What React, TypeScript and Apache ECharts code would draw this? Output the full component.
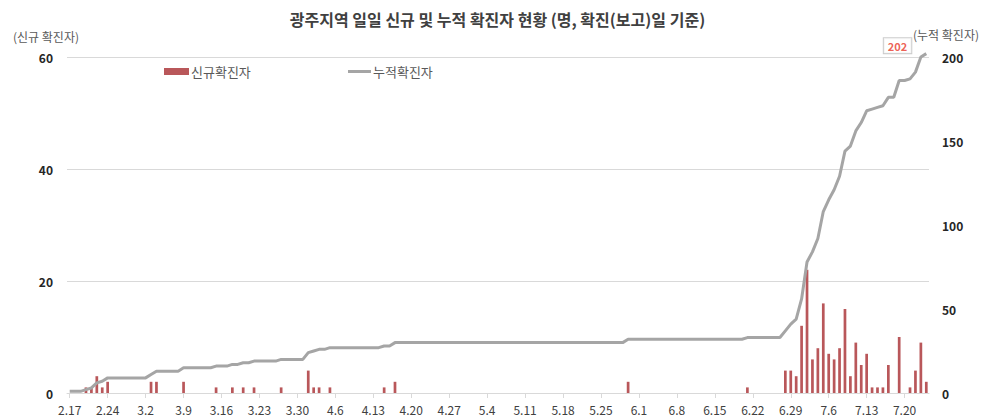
import React, { useEffect, useRef } from 'react';
import * as echarts from 'echarts';

const TITLE = '광주지역 일일 신규 및 누적 확진자 현황 (명, 확진(보고)일 기준)';
const SERIES_NAMES = ['신규확진자', '누적확진자'];
const LEFT_AXIS_NAME = '(신규 확진자)';
const RIGHT_AXIS_NAME = '(누적 확진자)';

// x axis: one category per day, starting 2020-02-17
const START_YEAR = 2020;
const START_MONTH = 2;
const START_DAY = 17;
const DAY_COUNT = 159;

// days with new confirmed cases (all other days: 0)
const NEW_CASE_DATES = [
  '2.20', '2.21', '2.22', '2.23', '2.24',
  '3.3', '3.4', '3.9',
  '3.15', '3.18', '3.20', '3.22', '3.27',
  '4.1', '4.2', '4.3', '4.5',
  '4.15', '4.17',
  '5.30',
  '6.21',
  '6.28', '6.29', '6.30', '7.1', '7.2', '7.3', '7.4', '7.5', '7.6', '7.7', '7.8',
  '7.9', '7.10', '7.11', '7.12', '7.13', '7.14', '7.15', '7.16', '7.17', '7.18',
  '7.19', '7.20', '7.21', '7.22', '7.23', '7.24',
];
const NEW_CASE_COUNTS = [
  1, 1, 3, 1, 2,
  2, 2, 2,
  1, 1, 1, 1, 1,
  4, 1, 1, 1,
  1, 2,
  2,
  1,
  4, 4, 3, 12, 22, 6, 8, 16, 7, 6, 8,
  15, 3, 9, 5, 7, 1, 1, 1, 5, 0,
  10, 0, 1, 4, 9, 2,
];
// cumulative count before the first day shown
const CUMULATIVE_BEFORE_START = 1;

const LEFT_MAX = 60;
const LEFT_INTERVAL = 20;
const RIGHT_MAX = 200;
const RIGHT_INTERVAL = 50;

const BAR_COLOR = '#b9575a';
const LINE_COLOR = '#a5a5a5';
const GRID_COLOR = '#d9d9d9';
const FONT = '"Noto Sans CJK KR", "Noto Sans", sans-serif';

function buildCategories(): string[] {
  const out: string[] = [];
  const base = Date.UTC(START_YEAR, START_MONTH - 1, START_DAY);
  for (let i = 0; i < DAY_COUNT; i++) {
    const d = new Date(base + i * 86400000);
    out.push(`${d.getUTCMonth() + 1}.${d.getUTCDate()}`);
  }
  return out;
}

export default function App() {
  const ref = useRef<HTMLDivElement>(null);

  useEffect(() => {
    if (!ref.current) return;
    const chart = echarts.init(ref.current, undefined, { renderer: 'svg' });

    const categories = buildCategories();
    const daily = categories.map((c) => {
      const idx = NEW_CASE_DATES.indexOf(c);
      return idx >= 0 ? NEW_CASE_COUNTS[idx] : 0;
    });
    const cumulative: number[] = [];
    let running = CUMULATIVE_BEFORE_START;
    daily.forEach((v) => {
      running += v;
      cumulative.push(running);
    });
    const lastIndex = categories.length - 1;
    const total = cumulative[lastIndex];

    const legendText = { fontFamily: FONT, fontSize: 13, color: '#595959', padding: [0, 0, 0, -3] };

    chart.setOption({
      animation: false,
      backgroundColor: '#ffffff',
      textStyle: { fontFamily: FONT },
      title: {
        text: TITLE,
        left: 'center',
        top: 6,
        textStyle: { fontFamily: FONT, fontSize: 16, fontWeight: 'bold', color: '#404040' },
      },
      legend: [
        {
          data: [{ name: SERIES_NAMES[0], icon: 'rect' }],
          left: 159,
          top: 60,
          itemWidth: 25,
          itemHeight: 7,
          textStyle: legendText,
        },
        {
          data: [{ name: SERIES_NAMES[1], icon: 'rect' }],
          left: 343,
          top: 60,
          itemWidth: 23,
          itemHeight: 3,
          textStyle: legendText,
        },
      ],
      grid: {
        left: 67,
        right: 66,
        top: 57,
        bottom: 27,
        containLabel: false,
        outerBoundsMode: 'none',
      },
      graphic: [
        {
          type: 'text',
          left: 13,
          top: 30,
          style: { text: LEFT_AXIS_NAME, fontFamily: FONT, fontSize: 12, fill: '#595959' },
        },
        {
          type: 'text',
          left: 913,
          top: 28,
          style: { text: RIGHT_AXIS_NAME, fontFamily: FONT, fontSize: 12, fill: '#595959' },
        },
      ],
      xAxis: {
        type: 'category',
        data: categories,
        boundaryGap: true,
        axisLine: { lineStyle: { color: GRID_COLOR, width: 1 } },
        axisTick: {
          show: true,
          interval: 6,
          alignWithLabel: true,
          length: 5,
          lineStyle: { color: GRID_COLOR },
        },
        axisLabel: {
          interval: 6,
          margin: 10,
          fontFamily: FONT,
          fontSize: 12,
          color: '#404040',
        },
        splitLine: { show: false },
      },
      yAxis: [
        {
          type: 'value',
          min: 0,
          max: LEFT_MAX,
          interval: LEFT_INTERVAL,
          axisLine: { show: false },
          axisTick: { show: false },
          axisLabel: {
            margin: 14,
            fontFamily: FONT,
            fontSize: 12,
            fontWeight: 'bold',
            color: '#262626',
          },
          splitLine: { show: true, lineStyle: { color: GRID_COLOR, width: 1 } },
        },
        {
          type: 'value',
          min: 0,
          max: RIGHT_MAX,
          interval: RIGHT_INTERVAL,
          axisLine: { show: false },
          axisTick: { show: false },
          axisLabel: {
            margin: 13,
            fontFamily: FONT,
            fontSize: 12,
            fontWeight: 'bold',
            color: '#262626',
          },
          splitLine: { show: false },
        },
      ],
      series: [
        {
          name: SERIES_NAMES[0],
          type: 'bar',
          yAxisIndex: 0,
          data: daily,
          barWidth: '50%',
          itemStyle: { color: BAR_COLOR },
          z: 2,
        },
        {
          name: SERIES_NAMES[1],
          type: 'line',
          yAxisIndex: 1,
          data: cumulative,
          symbol: 'none',
          showSymbol: false,
          clip: false,
          lineStyle: { color: LINE_COLOR, width: 3 },
          itemStyle: { color: LINE_COLOR },
          z: 3,
        },
        {
          name: 'total-label',
          type: 'scatter',
          yAxisIndex: 1,
          clip: false,
          silent: true,
          symbol: 'circle',
          symbolSize: 2,
          itemStyle: { color: 'rgba(0,0,0,0)' },
          data: [[lastIndex, total]],
          z: 5,
          label: {
            show: true,
            position: 'left',
            distance: 14,
            offset: [0, -8],
            formatter: String(total),
            fontFamily: FONT,
            fontSize: 11,
            fontWeight: 'bold',
            color: '#e8382a',
            backgroundColor: '#ffffff',
            borderColor: '#bfbfbf',
            borderWidth: 1,
            padding: [2, 4],
          },
        },
      ],
    });

    return () => chart.dispose();
  }, []);

  return (
    <div
      ref={ref}
      style={{ position: 'fixed', left: 0, top: 0, width: 995, height: 420 }}
    />
  );
}
